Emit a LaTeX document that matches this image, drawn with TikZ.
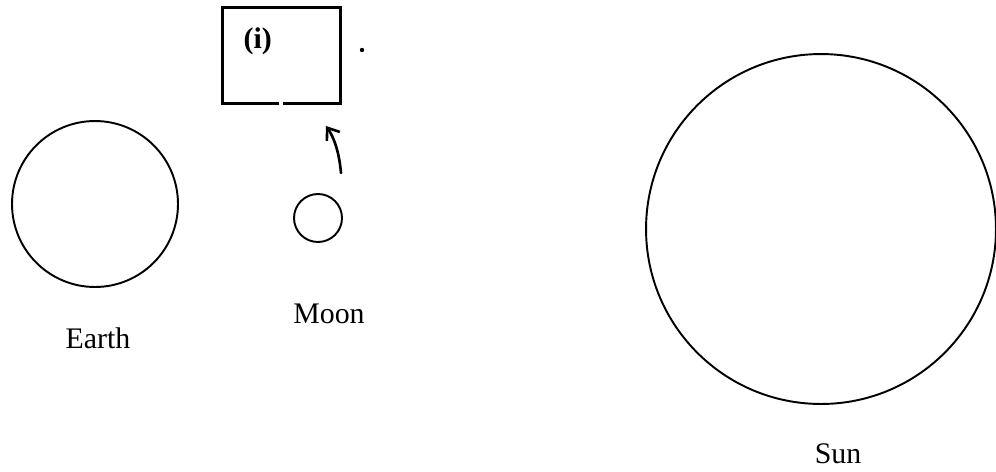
\documentclass[tikz,border=0pt]{standalone}
\usepackage{fontspec}
\setmainfont{Liberation Serif}
\usepackage{tikz}
\usetikzlibrary{arrows.meta, positioning}

\begin{document}
\begin{tikzpicture}[
    x=0.02cm, y=-0.02cm,
    font=\fontsize{17}{20}\selectfont,
    body/.style={circle, draw, line width=1.1pt, inner sep=0pt, minimum size=#1},
    caption/.style={inner sep=3pt},
    outline/.style={line width=1.4pt},
    pointer/.style={-{Straight Barb[length=6pt, width=9pt]}, line width=1.5pt, line cap=round},
]
    \useasboundingbox (0,0) rectangle (996,471);

    % Bodies
    \node[body=3.32cm] (earth) at (95,204) {};
    \node[body=0.96cm] (moon) at (318,218) {};
    \node[body=7cm] (sun) at (821,229) {};

    % Names
    \node[caption, below=0.68cm of earth, xshift=0.06cm] (earthname) {Earth};
    \node[caption, below=1.1cm of moon, xshift=0.22cm] (moonname) {Moon};
    \node[caption, below=0.66cm of sun, xshift=0.34cm] (sunname) {Sun};

    % Box (i) above the moon
    \node[minimum width=2.34cm, minimum height=1.9cm, inner sep=0pt] (box) at (281.5,55.5) {};
    \draw[outline] ([xshift=-0.05cm]box.south) -| (box.north west) -| (box.south east) -- ([xshift=0.03cm]box.south);
    \node[font=\fontsize{17}{20}\selectfont\bfseries, inner sep=0pt] (tag) at ([xshift=0.7cm, yshift=-0.68cm]box.north west) {(i)};
    \node[circle, fill, inner sep=0pt, minimum size=2.5pt] (speck) at (362,50) {};

    % Arrow from the moon up to the box
    \coordinate (tail) at (341,173);
    \coordinate (tip) at (326,126);
    \draw[pointer] (tail) .. controls (339,150) and (333,136) .. (tip);
\end{tikzpicture}
\end{document}
